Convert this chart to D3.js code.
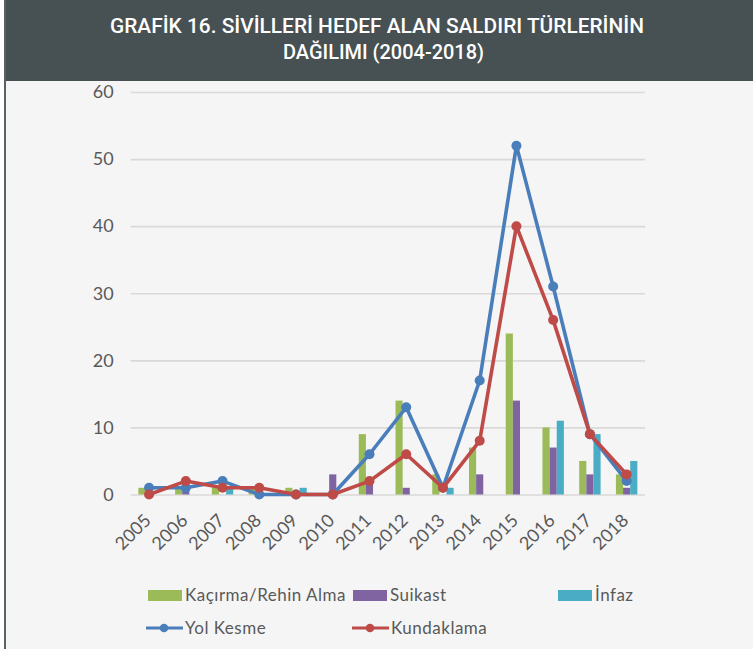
<!DOCTYPE html>
<html>
<head>
<meta charset="utf-8">
<script src="https://cdn.jsdelivr.net/npm/d3@7"></script>
<style>
  body { margin: 0; background: #ffffff; }
  svg { display: block; }
</style>
</head>
<body>
<div id="chart"></div>
<script>
// data
var years = ["2005","2006","2007","2008","2009","2010","2011","2012","2013","2014","2015","2016","2017","2018"];
var kacirma = [1,1,1,1,1,0,9,14,3,7,24,10,5,3];
var suikast = [0,1,0,0,0,3,2,1,0,3,14,7,3,1];
var infaz = [0,0,1,0,1,0,0,0,1,0,0,11,9,5];
var yolKesme = [1,1,2,0,0,0,6,13,1,17,52,31,9,2];
var kundaklama = [0,2,1,1,0,0,2,6,1,8,40,26,9,3];
var yTicks = [0,10,20,30,40,50,60];

var barSeries = [
  {name: "Kaçırma/Rehin Alma", values: kacirma, color: "#9bbb59"},
  {name: "Suikast", values: suikast, color: "#8064a2"},
  {name: "İnfaz", values: infaz, color: "#4bacc6"}
];
var lineSeries = [
  {name: "Yol Kesme", values: yolKesme, color: "#4a7ebb"},
  {name: "Kundaklama", values: kundaklama, color: "#be4b48"}
];

var W = 753, H = 649;
var font = "Lato, 'Open Sans', sans-serif";

var svg = d3.select("#chart").append("svg")
  .attr("width", W)
  .attr("height", H);

// frame + background
svg.append("rect").attr("x", 4).attr("y", 0).attr("width", W - 4).attr("height", H).attr("fill", "#f5f5f5");
svg.append("rect").attr("x", 4).attr("y", 0).attr("width", W - 4).attr("height", 81).attr("fill", "#475053");
svg.append("line").attr("x1", 5).attr("x2", 5).attr("y1", 0).attr("y2", H)
  .attr("stroke", "#5a6164").attr("stroke-width", 2);

// title
var title = svg.append("g").attr("fill", "#ffffff")
  .style("font-family", "Roboto, sans-serif").style("font-weight", 500).style("font-size", "21px");
title.append("text").attr("x", 110).attr("y", 33)
  .attr("textLength", 534).attr("lengthAdjust", "spacingAndGlyphs")
  .text("GRAFİK 16. SİVİLLERİ HEDEF ALAN SALDIRI TÜRLERİNİN");
title.append("text").attr("x", 283).attr("y", 59)
  .attr("textLength", 201).attr("lengthAdjust", "spacingAndGlyphs")
  .text("DAĞILIMI (2004-2018)");

// scales
var x = d3.scaleBand().domain(years).range([130.7, 645]);
var inner = d3.scaleBand().domain(barSeries.map(function(d){ return d.name; }))
  .range([(x.bandwidth() - 21.4) / 2, (x.bandwidth() + 21.4) / 2]);
var y = d3.scaleLinear().domain([0, 60]).range([494.5, 92]);

// gridlines
var yAxis = d3.axisLeft(y).tickValues(yTicks).tickSize(-(645 - 130.7)).tickPadding(17);
var gy = svg.append("g").attr("transform", "translate(130.7,0)").call(yAxis);
gy.select(".domain").remove();
gy.selectAll(".tick line").attr("stroke", "#d9d9d9").attr("stroke-width", 1.6);
gy.selectAll(".tick text").attr("fill", "#595959")
  .style("font-family", font).style("font-size", "18px");

// x labels
var xAxis = d3.axisBottom(x).tickSize(0);
var gx = svg.append("g").attr("transform", "translate(0,494.5)").call(xAxis);
gx.select(".domain").remove();
gx.selectAll(".tick text")
  .attr("fill", "#595959")
  .style("font-family", font).style("font-size", "18px")
  .attr("text-anchor", "end")
  .attr("dy", null).attr("y", 0)
  .attr("transform", "translate(3,27) rotate(-45)");

// bars
var groups = svg.append("g").selectAll("g")
  .data(barSeries).enter().append("g")
  .attr("fill", function(d){ return d.color; });
groups.selectAll("rect")
  .data(function(s){ return s.values.map(function(v, i){ return {name: s.name, year: years[i], v: v}; }); })
  .enter().append("rect")
  .attr("x", function(d){ return x(d.year) + inner(d.name); })
  .attr("width", inner.bandwidth())
  .attr("y", function(d){ return y(d.v); })
  .attr("height", function(d){ return y(0) - y(d.v); });

// lines
var line = d3.line()
  .x(function(d, i){ return x(years[i]) + x.bandwidth() / 2; })
  .y(function(d){ return y(d); });

lineSeries.forEach(function(s){
  svg.append("path")
    .attr("d", line(s.values))
    .attr("fill", "none")
    .attr("stroke", s.color)
    .attr("stroke-width", 3.6)
    .attr("stroke-linejoin", "round");
  svg.append("g").selectAll("circle")
    .data(s.values).enter().append("circle")
    .attr("cx", function(d, i){ return x(years[i]) + x.bandwidth() / 2; })
    .attr("cy", function(d){ return y(d); })
    .attr("r", 5)
    .attr("fill", s.color);
});

// legend
var legend = svg.append("g").style("font-family", font).style("font-size", "17px")
  .style("letter-spacing", "0.5px").attr("fill", "#595959");
var barLegendX = [148, 353, 558];
barSeries.forEach(function(s, i){
  legend.append("rect").attr("x", barLegendX[i]).attr("y", 590).attr("width", 34).attr("height", 11).attr("fill", s.color);
  legend.append("text").attr("x", barLegendX[i] + 37).attr("y", 601).text(s.name);
});
var lineLegendX = [146, 352];
lineSeries.forEach(function(s, i){
  legend.append("line").attr("x1", lineLegendX[i]).attr("x2", lineLegendX[i] + 37)
    .attr("y1", 628).attr("y2", 628).attr("stroke", s.color).attr("stroke-width", 3.2);
  legend.append("circle").attr("cx", lineLegendX[i] + 18).attr("cy", 628).attr("r", 4.3).attr("fill", s.color);
  legend.append("text").attr("x", lineLegendX[i] + 39).attr("y", 634).text(s.name);
});
</script>
</body>
</html>
